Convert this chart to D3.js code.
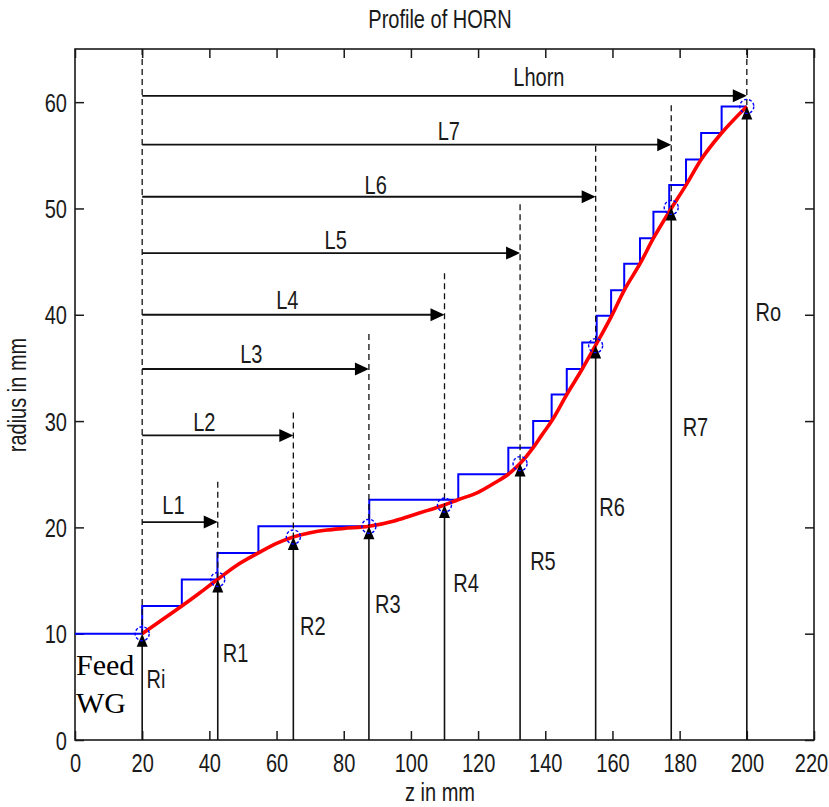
<!DOCTYPE html>
<html>
<head>
<meta charset="utf-8">
<script src="https://cdn.jsdelivr.net/npm/d3@7"></script>
<style>
  html, body { margin: 0; padding: 0; background: #fff; }
  svg { display: block; }
</style>
</head>
<body>
<svg id="chart" width="829" height="807"></svg>
<script>
// ---------------- data ----------------
const xTicks = [0, 20, 40, 60, 80, 100, 120, 140, 160, 180, 200, 220];
const yTicks = [0, 10, 20, 30, 40, 50, 60];

// design points (circles / R arrows)
const designZ = [20, 42.5, 65, 87.5, 110, 132.5, 155, 177.5, 200];
const designR = [10, 15.1, 19.1, 20.1, 22.1, 26.0, 37.1, 50.1, 59.6];
const rNames  = ["Ri", "R1", "R2", "R3", "R4", "R5", "R6", "R7", "Ro"];
const rLabelZ = [21.3, 44.0, 67.0, 89.3, 112.6, 135.5, 156.1, 180.9, 202.6];
const rLabelR = [4.85, 7.35, 9.9, 11.9, 13.9, 16.0, 21.1, 28.6, 39.45];

// smooth profile (red)
const profileZ = [20, 25, 31.8, 37, 42.4, 48, 54.6, 60, 65, 70, 75, 80, 87.5, 95, 100, 105, 110, 114,
                  120, 125, 129, 132.5, 136.4, 139, 141.9, 146.4, 151, 155.3, 159.6, 163.5, 168.2,
                  172.2, 177.5, 181.9, 186.4, 192.5, 200];
const profileR = [10, 11.1, 12.6, 13.8, 15.1, 16.4, 17.6, 18.5, 19.1, 19.5, 19.75, 19.9, 20.1, 20.6, 21.1, 21.6, 22.1, 22.6,
                  23.3, 24.2, 25.0, 26.0, 27.5, 28.7, 30.0, 32.5, 34.9, 37.3, 39.8, 42.3, 44.8,
                  47.2, 50.0, 52.2, 54.6, 57.1, 59.6];

// stepped (corrugated) profile (blue): level starting at stepZ
const stepZ = [0, 20, 31.8, 42.4, 54.6, 87.6, 114.1, 129, 136.4, 141.9, 146.4, 151, 155.3, 159.6, 163.5,
               168.2, 172.2, 176.9, 181.9, 186.4, 192.5, 200];
const stepR = [10, 12.6, 15.1, 17.6, 20.1, 22.6, 25.0, 27.5, 30.0, 32.5, 34.9, 37.4, 39.9, 42.3, 44.8,
               47.2, 49.7, 52.2, 54.6, 57.1, 59.6, 59.6];

// length arrows
const lNames  = ["L1", "L2", "L3", "L4", "L5", "L6", "L7", "Lhorn"];
const lStartZ = 20;
const lArrowR = [20.5, 28.65, 34.9, 40.0, 45.8, 51.1, 56.0, 60.6];
const lLabelZ = [29.3, 38.5, 52.5, 63.2, 77.6, 89.5, 111.3, 138.1];
const lLabelR = [21.3, 29.1, 35.5, 40.55, 46.2, 51.35, 56.4, 61.5];
// dashed guide tops for each design z
const dashTopR = [65, 24.3, 30.8, 38.2, 43.9, 50.4, 55.9, 59.7, 65];

const feedLines = ["Feed", "WG"];
const feedZ = 0.3;
const feedR = [6.1, 2.57];

// ---------------- layout ----------------
const svg = d3.select("#chart");
const x = d3.scaleLinear().domain([0, 220]).range([75, 814]);
const y = d3.scaleLinear().domain([0, 65]).range([740, 49]);
const SX = 0.77;      // horizontal squeeze of the narrow bitmap-like font
const FS = 26;
const SANS = "'Liberation Sans', Arial, sans-serif";
const SERIF = "'Liberation Serif', 'Times New Roman', serif";

function txt(px, py, s, anchor, rot) {
  return svg.append("text")
    .attr("transform", `translate(${px},${py})` + (rot ? ` rotate(${rot})` : "") + ` scale(${SX},1)`)
    .attr("text-anchor", anchor || "start")
    .style("font-family", SANS)
    .style("font-size", FS + "px")
    .style("fill", "#1a1a1a")
    .text(s);
}

// ---------------- axes ----------------
const TL = 9;
const gx = svg.append("g").attr("transform", `translate(0,${y(0)})`)
  .call(d3.axisBottom(x).tickValues(xTicks).tickSize(-TL).tickPadding(0).tickFormat(d3.format("d")));
const gxTop = svg.append("g").attr("transform", `translate(0,${y(65)})`)
  .call(d3.axisTop(x).tickValues(xTicks).tickSize(-TL).tickFormat(""));
const gy = svg.append("g").attr("transform", `translate(${x(0)},0)`)
  .call(d3.axisLeft(y).tickValues(yTicks).tickSize(-TL).tickPadding(0).tickFormat(d3.format("d")));
const gyR = svg.append("g").attr("transform", `translate(${x(220)},0)`)
  .call(d3.axisRight(y).tickValues(yTicks).tickSize(-TL).tickFormat(""));
[gx, gxTop, gy, gyR].forEach(g => {
  g.select(".domain").remove();
  g.selectAll(".tick line").attr("stroke", "#1a1a1a").attr("stroke-width", 1.5);
});
gx.selectAll(".tick text")
  .style("font-size", FS + "px").style("font-family", SANS)
  .style("fill", "#1a1a1a").attr("y", 0).attr("dy", null)
  .attr("transform", d => `translate(${d === 220 ? -3 : 0},32) scale(${SX},1)`);
gy.selectAll(".tick text")
  .style("font-size", FS + "px").style("font-family", SANS)
  .style("fill", "#1a1a1a").attr("x", 0).attr("dy", null)
  .attr("transform", `translate(-8,9) scale(${SX},1)`);

// frame
svg.append("rect")
  .attr("x", x(0)).attr("y", y(65))
  .attr("width", x(220) - x(0)).attr("height", y(0) - y(65))
  .attr("fill", "none").attr("stroke", "#1a1a1a").attr("stroke-width", 1.6);

// ---------------- marks ----------------
const stepPts = stepZ.map((z, i) => [z, stepR[i]]);
svg.append("path")
  .attr("d", d3.line().x(d => x(d[0])).y(d => y(d[1])).curve(d3.curveStepAfter)(stepPts))
  .attr("fill", "none").attr("stroke", "#0000ff").attr("stroke-width", 2);

const profPts = profileZ.map((z, i) => [z, profileR[i]]);
svg.append("path")
  .attr("d", d3.line().x(d => x(d[0])).y(d => y(d[1])).curve(d3.curveMonotoneX)(profPts))
  .attr("fill", "none").attr("stroke", "#ff0000").attr("stroke-width", 3.6);

// dashed guides
designZ.forEach((z, i) => {
  svg.append("line")
    .attr("x1", x(z)).attr("x2", x(z))
    .attr("y1", y(dashTopR[i])).attr("y2", y(designR[i]))
    .attr("stroke", "#111").attr("stroke-width", 1.3).attr("stroke-dasharray", "6,4");
});

// R arrows (vertical, from axis up to design point)
designZ.forEach((z, i) => {
  const px = x(z), tip = y(designR[i]);
  svg.append("line")
    .attr("x1", px).attr("x2", px).attr("y1", y(0)).attr("y2", tip + 6)
    .attr("stroke", "#111").attr("stroke-width", 1.6);
  svg.append("path")
    .attr("d", `M${px},${tip} L${px - 5.5},${tip + 13} L${px + 5.5},${tip + 13} Z`)
    .attr("fill", "#000");
});

// L arrows (horizontal)
lNames.forEach((n, i) => {
  const x0 = x(lStartZ), x1 = x(designZ[i + 1]), py = y(lArrowR[i]);
  svg.append("line")
    .attr("x1", x0).attr("x2", x1 - 6).attr("y1", py).attr("y2", py)
    .attr("stroke", "#111").attr("stroke-width", 1.8);
  svg.append("path")
    .attr("d", `M${x1},${py} L${x1 - 14},${py - 6.5} L${x1 - 14},${py + 6.5} Z`)
    .attr("fill", "#000");
});

// circles at design points
designZ.forEach((z, i) => {
  svg.append("circle")
    .attr("cx", x(z)).attr("cy", y(designR[i])).attr("r", 7)
    .attr("fill", "none").attr("stroke", "#0000ff").attr("stroke-width", 1.4)
    .attr("stroke-dasharray", "3,2");
});

// ---------------- text ----------------
lNames.forEach((n, i) => txt(x(lLabelZ[i]), y(lLabelR[i]), n, "middle"));
rNames.forEach((n, i) => txt(x(rLabelZ[i]), y(rLabelR[i]), n, "start"));

feedLines.forEach((s, i) => {
  svg.append("text")
    .attr("x", x(feedZ)).attr("y", y(feedR[i]))
    .style("font-family", SERIF)
    .style("font-size", "30px").style("fill", "#000")
    .text(s);
});

txt(440, 28, "Profile of HORN", "middle");
txt(440, 801, "z in mm", "middle");
txt(26, 395, "radius in mm", "middle", -90);
</script>
</body>
</html>
